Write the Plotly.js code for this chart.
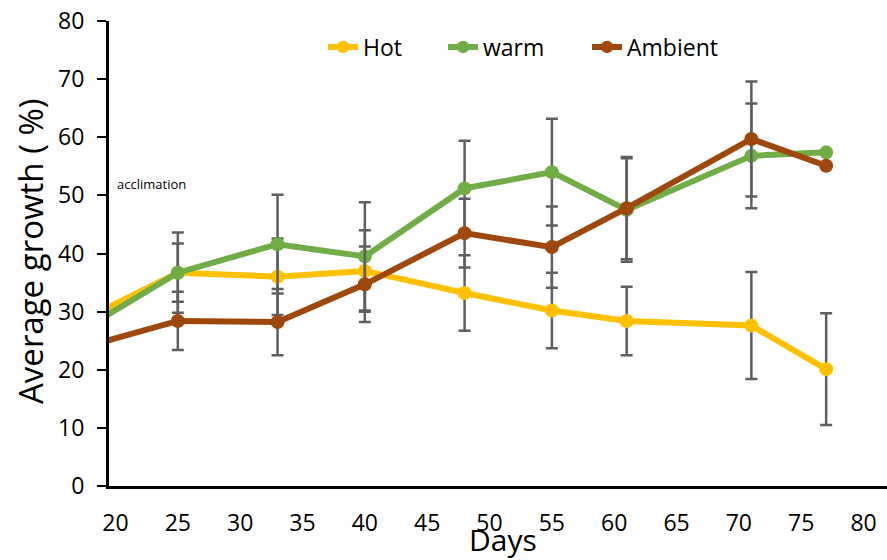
<!DOCTYPE html>
<html>
<head>
<meta charset="utf-8">
<script src="https://cdn.plot.ly/plotly-3.0.1.min.js"></script>
<style>html,body{margin:0;padding:0;background:#fff}#chart{width:887px;height:560px}</style>
</head>
<body>
<div id="chart"></div>
<script>
// Days of measurement (first point lies before the visible axis range)
const days = [18, 25, 33, 40, 48, 55, 61, 71, 77];

// Average growth (%)
const hot     = [29.2, 36.7, 36.0, 37.0, 33.2, 30.2, 28.4, 27.6, 20.1];
const warm    = [27.7, 36.7, 41.6, 39.5, 51.2, 54.0, 47.5, 56.8, 57.4];
const ambient = [24.2, 28.4, 28.2, 34.7, 43.5, 41.1, 47.8, 59.7, 55.1];

// Error bar half-lengths
const hotErr     = [null, 5.0, 6.6, 7.0, 6.5, 6.5, 5.9, 9.2, 9.6];
const warmErr    = [null, 6.9, 8.5, 9.3, 8.2, 9.2, 8.9, 9.0, null];
const ambientErr = [null, 5.0, 5.7, 6.5, 5.9, 7.0, 8.8, 9.9, null];

const seriesNames = ["Hot", "warm", "Ambient"];
const seriesColors = ["#FFC000", "#70AD47", "#9E480E"];

const FONT = "Open Sans, Noto Sans, sans-serif";
const sizes = days.map((d, i) => i === 0 ? 0 : 14);

function mk(name, y, err, color, legendId) {
  return {
    type: "scatter", mode: "lines+markers", name: name,
    x: days, y: y,
    line: {color: color, width: 6},
    marker: {color: color, size: sizes, opacity: 1, line: {width: 0}},
    error_y: {type: "data", array: err, visible: true, color: "#5F5F5F", thickness: 2.5, width: 6},
    legend: legendId, cliponaxis: true
  };
}

const data = [
  mk(seriesNames[0], hot, hotErr, seriesColors[0], "legend"),
  mk(seriesNames[1], warm, warmErr, seriesColors[1], "legend2"),
  mk(seriesNames[2], ambient, ambientErr, seriesColors[2], "legend3")
];

const legBase = {orientation: "h", xanchor: "left", yanchor: "middle", y: (486 - 47) / 465,
  font: {family: FONT, size: 23, color: "#000"}, bgcolor: "rgba(0,0,0,0)", borderwidth: 0};

const layout = {
  width: 887, height: 560,
  margin: {l: 109, r: 0, t: 21, b: 74},
  paper_bgcolor: "#fff", plot_bgcolor: "#fff",
  showlegend: true,
  legend: Object.assign({}, legBase, {x: 0.2751}),
  legend2: Object.assign({}, legBase, {x: 0.4293}),
  legend3: Object.assign({}, legBase, {x: 0.6144}),
  xaxis: {
    range: [19.48, 81.88], tick0: 20, dtick: 5,
    showgrid: false, zeroline: false,
    showline: true, linecolor: "#000", linewidth: 3,
    ticks: "", ticklabelstandoff: 14,
    tickfont: {family: FONT, size: 23, color: "#000"}
  },
  yaxis: {
    range: [0, 80], tick0: 0, dtick: 10,
    showgrid: false, zeroline: false,
    showline: true, linecolor: "#000", linewidth: 3,
    ticks: "outside", ticklen: 9, tickwidth: 2, tickcolor: "#000",
    ticklabelstandoff: 8,
    tickfont: {family: FONT, size: 23, color: "#000"}
  },
  annotations: [
    {text: "Days", xref: "paper", yref: "paper", x: (503 - 109) / 778, y: -(539 - 486) / 465,
     xanchor: "center", yanchor: "middle", showarrow: false,
     font: {family: FONT, size: 30, color: "#000"}},
    {text: "Average growth ( %)", xref: "paper", yref: "paper", x: -(109 - 30) / 778, y: (486 - 252) / 465,
     xanchor: "center", yanchor: "middle", textangle: -90, showarrow: false,
     font: {family: FONT, size: 33, color: "#000"}},
    {text: "acclimation", xref: "x", yref: "y", x: 20, y: 52,
     xanchor: "left", yanchor: "middle", showarrow: false,
     font: {family: FONT, size: 13, color: "#000"}}
  ]
};

Plotly.newPlot("chart", data, layout, {displayModeBar: false, staticPlot: true});
</script>
</body>
</html>
